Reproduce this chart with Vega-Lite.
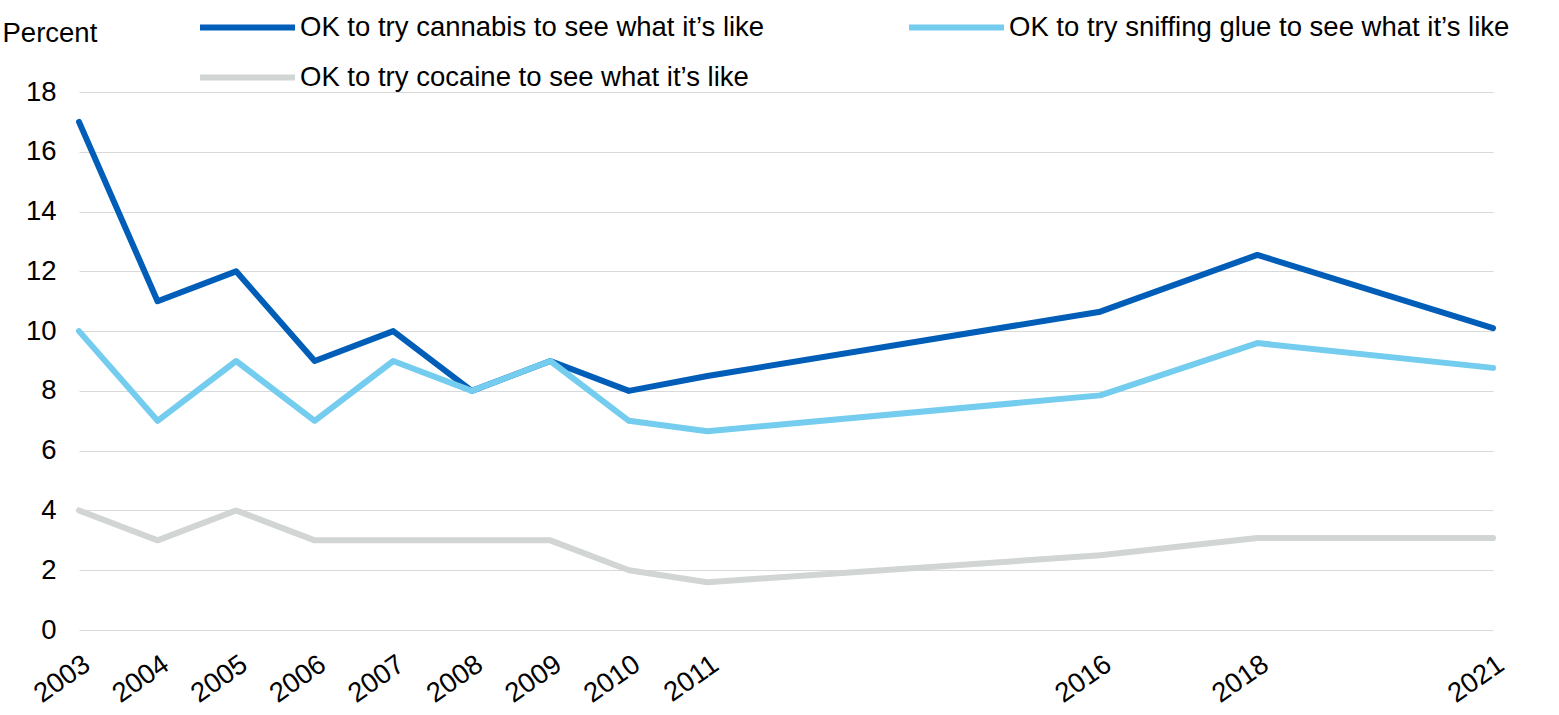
{
  "$schema": "https://vega.github.io/schema/vega-lite/v6.json",
  "width": 1414,
  "height": 538,
  "autosize": {"type": "none"},
  "padding": {"left": 79, "top": 92, "right": 66, "bottom": 85},
  "background": "white",
  "config": {
    "view": {"stroke": null},
    "font": "Liberation Sans"
  },
  "data": {
    "values": [
      {"year": 2003, "series": "OK to try cannabis to see what it’s like", "value": 17},
      {"year": 2004, "series": "OK to try cannabis to see what it’s like", "value": 11},
      {"year": 2005, "series": "OK to try cannabis to see what it’s like", "value": 12},
      {"year": 2006, "series": "OK to try cannabis to see what it’s like", "value": 9},
      {"year": 2007, "series": "OK to try cannabis to see what it’s like", "value": 10},
      {"year": 2008, "series": "OK to try cannabis to see what it’s like", "value": 8},
      {"year": 2009, "series": "OK to try cannabis to see what it’s like", "value": 9},
      {"year": 2010, "series": "OK to try cannabis to see what it’s like", "value": 8},
      {"year": 2011, "series": "OK to try cannabis to see what it’s like", "value": 8.5},
      {"year": 2016, "series": "OK to try cannabis to see what it’s like", "value": 10.65},
      {"year": 2018, "series": "OK to try cannabis to see what it’s like", "value": 12.55},
      {"year": 2021, "series": "OK to try cannabis to see what it’s like", "value": 10.1},
      {"year": 2003, "series": "OK to try sniffing glue to see what it’s like", "value": 10},
      {"year": 2004, "series": "OK to try sniffing glue to see what it’s like", "value": 7},
      {"year": 2005, "series": "OK to try sniffing glue to see what it’s like", "value": 9},
      {"year": 2006, "series": "OK to try sniffing glue to see what it’s like", "value": 7},
      {"year": 2007, "series": "OK to try sniffing glue to see what it’s like", "value": 9},
      {"year": 2008, "series": "OK to try sniffing glue to see what it’s like", "value": 8},
      {"year": 2009, "series": "OK to try sniffing glue to see what it’s like", "value": 9},
      {"year": 2010, "series": "OK to try sniffing glue to see what it’s like", "value": 7},
      {"year": 2011, "series": "OK to try sniffing glue to see what it’s like", "value": 6.65},
      {"year": 2016, "series": "OK to try sniffing glue to see what it’s like", "value": 7.85},
      {"year": 2018, "series": "OK to try sniffing glue to see what it’s like", "value": 9.6},
      {"year": 2021, "series": "OK to try sniffing glue to see what it’s like", "value": 8.77},
      {"year": 2003, "series": "OK to try cocaine to see what it’s like", "value": 4},
      {"year": 2004, "series": "OK to try cocaine to see what it’s like", "value": 3},
      {"year": 2005, "series": "OK to try cocaine to see what it’s like", "value": 4},
      {"year": 2006, "series": "OK to try cocaine to see what it’s like", "value": 3},
      {"year": 2007, "series": "OK to try cocaine to see what it’s like", "value": 3},
      {"year": 2008, "series": "OK to try cocaine to see what it’s like", "value": 3},
      {"year": 2009, "series": "OK to try cocaine to see what it’s like", "value": 3},
      {"year": 2010, "series": "OK to try cocaine to see what it’s like", "value": 2},
      {"year": 2011, "series": "OK to try cocaine to see what it’s like", "value": 1.6},
      {"year": 2016, "series": "OK to try cocaine to see what it’s like", "value": 2.5},
      {"year": 2018, "series": "OK to try cocaine to see what it’s like", "value": 3.08},
      {"year": 2021, "series": "OK to try cocaine to see what it’s like", "value": 3.08}
    ]
  },
  "mark": {"type": "line", "strokeWidth": 6, "strokeCap": "round", "strokeJoin": "round"},
  "encoding": {
    "x": {
      "field": "year",
      "type": "quantitative",
      "scale": {"domain": [2003, 2021], "nice": false, "zero": false},
      "axis": {
        "values": [2003, 2004, 2005, 2006, 2007, 2008, 2009, 2010, 2011, 2016, 2018, 2021],
        "format": "d",
        "title": null,
        "grid": false,
        "domain": false,
        "ticks": false,
        "tickSize": 0,
        "labelAngle": -35,
        "labelAlign": "right",
        "labelBaseline": "top",
        "labelPadding": 20,
        "labelFontSize": 27.5,
        "labelColor": "#000000",
        "labelFont": "Liberation Sans",
        "labelOverlap": false,
        "labelFlush": false,
        "labelBound": false
      }
    },
    "y": {
      "field": "value",
      "type": "quantitative",
      "scale": {"domain": [0, 18], "nice": false},
      "axis": {
        "values": [0, 2, 4, 6, 8, 10, 12, 14, 16, 18],
        "title": "Percent",
        "titleAngle": 0,
        "titleAlign": "left",
        "titleBaseline": "middle",
        "titleX": -77,
        "titleY": -59,
        "titleFontSize": 27.5,
        "titleFontWeight": "normal",
        "titleColor": "#000000",
        "titleFont": "Liberation Sans",
        "grid": true,
        "gridColor": "#D9D9D9",
        "gridWidth": 1,
        "domain": false,
        "ticks": false,
        "tickSize": 0,
        "labelPadding": 23,
        "labelFontSize": 27.5,
        "labelColor": "#000000",
        "labelFont": "Liberation Sans",
        "labelFlush": false,
        "labelOverlap": false
      }
    },
    "color": {
      "field": "series",
      "type": "nominal",
      "sort": null,
      "scale": {
        "domain": [
          "OK to try cannabis to see what it’s like",
          "OK to try sniffing glue to see what it’s like",
          "OK to try cocaine to see what it’s like"
        ],
        "range": ["#005EB8", "#74CCEE", "#D1D5D4"]
      },
      "legend": {
        "title": null,
        "orient": "none",
        "direction": "horizontal",
        "legendX": 118,
        "legendY": -84.5,
        "columns": 2,
        "columnPadding": 141,
        "rowPadding": 10,
        "clipHeight": 40,
        "padding": 0,
        "symbolType": "stroke",
        "symbolSize": 9025,
        "symbolStrokeWidth": 6,
        "labelOffset": 2,
        "labelFontSize": 27.5,
        "labelColor": "#000000",
        "labelFont": "Liberation Sans",
        "labelLimit": 1000
      }
    }
  }
}
